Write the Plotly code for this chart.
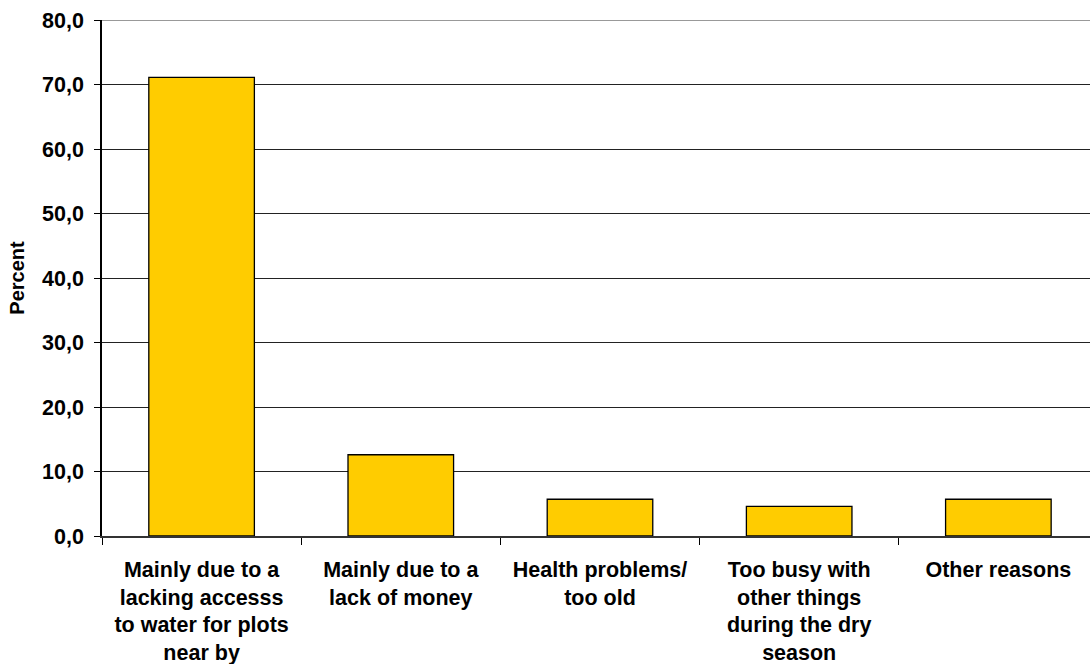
import plotly.graph_objects as go

categories = [
    "Mainly due to a<br>lacking accesss<br>to water for plots<br>near by",
    "Mainly due to a<br>lack of money",
    "Health problems/<br>too old",
    "Too busy with<br>other things<br>during the dry<br>season",
    "Other reasons",
]
values = [71.1, 12.6, 5.7, 4.6, 5.7]
y_ticks = [0, 10, 20, 30, 40, 50, 60, 70, 80]
y_tick_labels = ["0,0", "10,0", "20,0", "30,0", "40,0", "50,0", "60,0", "70,0", "80,0"]

FONT = "Liberation Sans, Arial, sans-serif"

fig = go.Figure(
    go.Bar(
        x=categories,
        y=values,
        width=0.53,
        marker=dict(color="#FFCC00", line=dict(color="#000000", width=1.3)),
        hoverinfo="skip",
    )
)

fig.update_layout(
    width=1090,
    height=664,
    margin=dict(l=102, r=0, t=20, b=128),
    paper_bgcolor="white",
    plot_bgcolor="white",
    font=dict(family=FONT, size=21, color="#000000"),
    showlegend=False,
    bargap=0.47,
)

fig.update_xaxes(
    type="category",
    range=[-0.5, 4.46],
    tickson="boundaries",
    ticks="outside",
    ticklen=7,
    tickcolor="#000000",
    showline=True,
    linecolor="#333333",
    linewidth=1.5,
    tickfont=dict(family=FONT, size=21.5, color="#000000", weight="bold"),
    ticklabelstandoff=13,
    showgrid=False,
    automargin=False,
)

fig.update_yaxes(
    range=[0, 80],
    tickvals=y_ticks,
    ticktext=y_tick_labels,
    ticks="outside",
    ticklen=6,
    tickcolor="#000000",
    showline=True,
    linecolor="#000000",
    linewidth=1.5,
    showgrid=True,
    gridcolor="#222222",
    gridwidth=1,
    zeroline=False,
    tickfont=dict(family=FONT, size=21.5, color="#000000", weight="bold"),
    ticklabelstandoff=6,
    title=dict(text="Percent", font=dict(family=FONT, size=20, color="#000000", weight="bold"), standoff=12),
    automargin=False,
)

fig.add_shape(
    type="line", xref="paper", yref="y", x0=0, x1=1, y0=80, y1=80,
    line=dict(color="#999999", width=2), layer="above",
)

fig.write_html("out.html")
